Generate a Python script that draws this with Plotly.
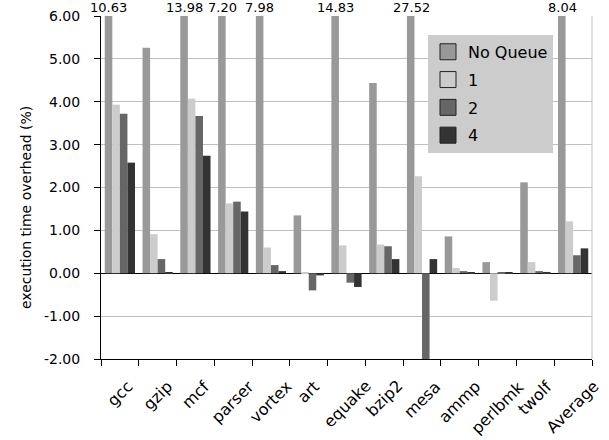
import plotly.graph_objects as go

categories = ["gcc", "gzip", "mcf", "parser", "vortex", "art", "equake", "bzip2",
              "mesa", "ammp", "perlbmk", "twolf", "Average"]
series_names = ["No Queue", "1", "2", "4"]
no_queue = [10.63, 5.26, 13.98, 7.20, 7.98, 1.35, 14.83, 4.44, 27.52, 0.86, 0.26, 2.12, 8.04]
q1 = [3.93, 0.91, 4.07, 1.63, 0.60, 0.02, 0.65, 0.67, 2.26, 0.12, -0.64, 0.26, 1.21]
q2 = [3.72, 0.33, 3.67, 1.67, 0.19, -0.40, -0.22, 0.63, -4.66, 0.05, 0.01, 0.05, 0.42]
q4 = [2.58, 0.02, 2.74, 1.44, 0.05, -0.05, -0.32, 0.33, 0.33, 0.01, 0.01, 0.03, 0.58]
y_tick_vals = [-2, -1, 0, 1, 2, 3, 4, 5, 6]
y_tick_text = ["-2.00", "-1.00", "0.00", "1.00", "2.00", "3.00", "4.00", "5.00", "6.00"]
colors = ["#999999", "#cccccc", "#666666", "#333333"]
y_max = 6.0

FONT = "DejaVu Sans"
fig = go.Figure()
for i, (name, vals) in enumerate(zip(series_names, [no_queue, q1, q2, q4])):
    fig.add_trace(go.Bar(
        x=categories, y=vals, name=name, showlegend=False,
        marker=dict(color=colors[i], line=dict(width=0)),
    ))
# legend entries (square swatches with dark outline)
for i, name in enumerate(series_names):
    fig.add_trace(go.Scatter(
        x=[None], y=[None], mode="markers", name=name, legendgroup=name,
        marker=dict(symbol="square", size=16, color=colors[i],
                    line=dict(color="#222", width=1)),
    ))

# labels for clipped bars
for c, v in zip(categories, no_queue):
    if v > y_max:
        fig.add_annotation(x=c, y=y_max, text=f"{v:.2f}", showarrow=False,
                           xref="x", yref="y", yanchor="bottom", xshift=-11,
                           yshift=-1, font=dict(family=FONT, size=13, color="#000"))

# category labels, rotated and centred under each group
for c in categories:
    fig.add_annotation(x=c, y=0, xref="x", yref="paper", text=c, showarrow=False,
                       textangle=-45, xanchor="center", yanchor="top", yshift=-15,
                       font=dict(family=FONT, size=16, color="#000"))

# y-axis title
fig.add_annotation(text="execution time overhead (%)", xref="paper", yref="paper",
                   x=0, y=0.44, xanchor="center", yanchor="middle", xshift=-75,
                   textangle=-90, showarrow=False,
                   font=dict(family=FONT, size=14, color="#000"))

fig.add_shape(type="line", xref="paper", yref="paper", x0=1, x1=1, y0=0, y1=1,
              line=dict(color="#c0c0c0", width=1))

fig.update_layout(
    width=609, height=440,
    margin=dict(l=101, r=17, t=16, b=81),
    paper_bgcolor="white", plot_bgcolor="white",
    barmode="group", bargap=0.2, bargroupgap=0,
    font=dict(family=FONT, size=14, color="#000"),
    legend=dict(x=0.666, y=0.945, xanchor="left", yanchor="top",
                bgcolor="#cccccc", font=dict(size=16), tracegroupgap=4,
                traceorder="grouped"),
    xaxis=dict(type="category", range=[-0.5, len(categories) - 0.5],
               showline=True, linecolor="#000", linewidth=1, automargin=False,
               ticks="outside", tickson="boundaries", ticklen=6, tickcolor="#000",
               showticklabels=False, showgrid=False),
    yaxis=dict(range=[-2, 6], tickmode="array", tickvals=y_tick_vals, ticktext=y_tick_text,
               showgrid=True, automargin=False,
               gridcolor="#c0c0c0", gridwidth=1, zeroline=True, zerolinecolor="#000",
               zerolinewidth=1, showline=True, linecolor="#000", linewidth=1,
               ticks="outside", ticklen=6, tickcolor="#000", ticklabelstandoff=11,
               tickfont=dict(size=14)),
)
fig.write_html("out.html", config={"displayModeBar": False},
               post_script="document.body.style.margin='0px';")
